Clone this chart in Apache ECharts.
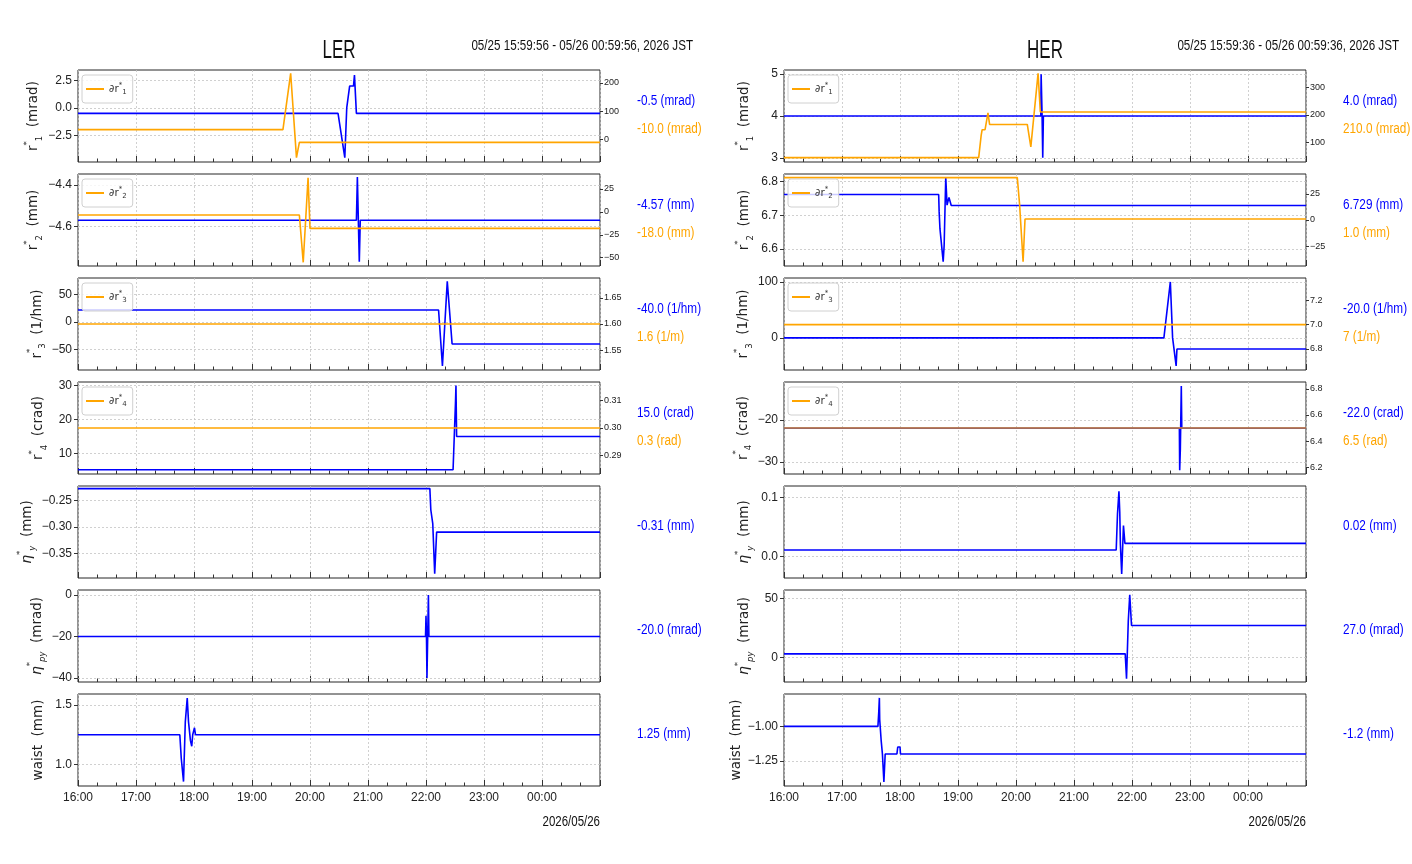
<!DOCTYPE html>
<html><head><meta charset="utf-8">
<script src="https://cdn.jsdelivr.net/npm/echarts@6/dist/echarts.min.js"></script>
<style>html,body{margin:0;padding:0;background:#fff}#c{width:1412px;height:864px}</style>
</head><body><div id="c"></div>
<script>
// ---------------- data (time "HH:MM[:SS]" , value) ----------------
const LER_r1   = [["16:00",-0.5],["20:29",-0.5],["20:36",-4.56],["20:38",0.0],["20:41",2.0],["20:45",2.0],["20:46",3.0],["20:48",-0.5],["01:00",-0.5]];
const LER_dr1  = [["16:00",35],["19:32",35],["19:40",234],["19:46",-64],["19:49",-10],["01:00",-10]];
const LER_r2   = [["16:00",-4.57],["20:48",-4.57],["20:49",-4.363],["20:51",-4.768],["20:52",-4.57],["01:00",-4.57]];
const LER_dr2  = [["16:00",-3.5],["19:49",-3.5],["19:53",-55],["19:58",37],["20:00",-18],["01:00",-18]];
const LER_r3   = [["16:00",22],["22:13",22],["22:17",-80],["22:22",74],["22:24",74],["22:27",-40],["01:00",-40]];
const LER_dr3  = [["16:00",1.6],["01:00",1.6]];
const LER_r4   = [["16:00",5.2],["22:28",5.2],["22:30:30",25],["22:31:00",30],["22:31:40",15],["01:00",15]];
const LER_dr4  = [["16:00",0.3],["01:00",0.3]];
const LER_ny   = [["16:00",-0.2275],["22:04",-0.2275],["22:05",-0.268],["22:07",-0.294],["22:09",-0.389],["22:11",-0.31],["01:00",-0.31]];
const LER_npy  = [["16:00",-20],["21:59:30",-20],["22:00:00",-10],["22:00:30",-20],["22:01:00",-40],["22:02:30",0],["22:03:00",-20],["01:00",-20]];
const LER_waist= [["16:00",1.25],["17:45:20",1.25],["17:46:50",1.05],["17:48:10",1.05],["17:49:10",0.856],["17:51:00",1.358],["17:52:30",1.358],["17:53:00",1.558],["17:54:20",1.358],["17:56:20",1.2],["17:57:40",1.153],["17:58:40",1.25],["18:00:30",1.308],["18:01:30",1.25],["01:00",1.25]];

const HER_r1   = [["16:00",4.0],["20:25:40",4.0],["20:26:00",5.0],["20:27:00",4.0],["20:27:40",3.0],["20:28:20",4.0],["01:00",4.0]];
const HER_dr1  = [["16:00",45],["19:21:24",45],["19:24:00",126],["19:25:00",146],["19:28:00",146],["19:31:00",207],["19:32:40",165],["20:11:40",165],["20:15:20",84],["20:22:50",350],["20:24:10",350],["20:25:10",210],["01:00",210]];
const HER_r2   = [["16:00",6.7616],["18:40:00",6.7616],["18:40:30",6.71],["18:41:20",6.66],["18:42:20",6.66],["18:44:40",6.562],["18:45:40",6.61],["18:47:20",6.813],["18:48:40",6.73],["18:50:40",6.753],["18:52:40",6.753],["18:53:00",6.729],["01:00",6.729]];
const HER_dr2  = [["16:00",40.5],["20:01:20",40.5],["20:03:40",15.5],["20:07:20",-40],["20:09:20",1],["01:00",1]];
const HER_r3   = [["16:00",0],["22:33:00",0],["22:39:40",100],["22:42:00",0],["22:43:20",0],["22:45:40",-50],["22:46:30",-20],["01:00",-20]];
const HER_dr3  = [["16:00",7.0],["01:00",7.0]];
const HER_r4   = [["16:00",-22],["22:49:00",-22],["22:49:20",-32],["22:50:00",-27],["22:51:00",-12],["22:51:30",-22],["01:00",-22]];
const HER_dr4  = [["16:00",6.5],["01:00",6.5]];
const HER_ny   = [["16:00",0.0106],["21:43:40",0.0106],["21:45:00",0.072],["21:46:30",0.11],["21:47:20",0.075],["21:48:00",0.02],["21:49:20",-0.03],["21:51:10",0.052],["21:52:40",0.0218],["01:00",0.0218]];
const HER_npy  = [["16:00",3.07],["21:53:00",3.07],["21:54:20",-17.9],["21:56:10",31],["21:57:40",53],["21:59:30",27],["01:00",27]];
const HER_waist= [["16:00",-1.0],["17:37:10",-1.0],["17:38:00",-0.9],["17:38:40",-0.795],["17:39:00",-0.95],["17:40:30",-1.1],["17:41:50",-1.2],["17:43:20",-1.4],["17:44:40",-1.198],["17:56:50",-1.198],["17:57:40",-1.148],["18:00:00",-1.148],["18:00:30",-1.198],["01:00",-1.198]];

// tick labels
const LER_ticksL = [[-2.5,0,2.5],[-4.6,-4.4],[-50,0,50],[10,20,30],[-0.35,-0.30,-0.25],[-40,-20,0],[1.0,1.5]];
const LER_ticksR = [[0,100,200],[-50,-25,0,25],[1.55,1.60,1.65],[0.29,0.30,0.31]];
const HER_ticksL = [[3,4,5],[6.6,6.7,6.8],[0,100],[-30,-20],[0.0,0.1],[0,50],[-1.25,-1.00]];
const HER_ticksR = [[100,200,300],[-25,0,25],[6.8,7.0,7.2],[6.2,6.4,6.6,6.8]];
const LER_decL = [1,1,0,0,2,0,1], LER_decR = [0,0,2,2];
const HER_decL = [0,1,0,0,1,0,2], HER_decR = [0,0,1,1];
const X_HOURS = [16,17,18,19,20,21,22,23,0];

// texts
const Y_NAMES = [['r','1','mrad'],['r','2','mm'],['r','3','1/hm'],['r','4','crad'],['η','y','mm'],['η','py','mrad'],['waist','','mm']];
const ORANGE_UNITS = ['mrad','mm','1/m','rad'];
const LER_decB = [1,2,1,1,2,1,2], LER_decO = [1,1,1,1];
const HER_decB = [1,3,1,1,2,1,1], HER_decO = [1,1,0,1];

// axis ranges
const LER_rangeL = [[-4.95,3.47],[-4.789,-4.348],[-87.3,80.1],[3.95,31.07],[-0.397,-0.2225],[-41.9,2.4],[0.819,1.592]];
const LER_rangeR = [[-79.5,245.6],[-59,41.2],[1.512,1.688],[0.2833,0.3167]];
const HER_rangeL = [[2.9,5.1],[6.549,6.8227],[-57.4,107],[-32.9,-11.02],[-0.0369,0.119],[-20.7,57],[-1.4286,-0.767]];
const HER_rangeR = [[29,362],[-44,44],[6.625,7.386],[6.147,6.853]];

// ---------------- build ----------------
const LF = "'Liberation Sans',Arial,sans-serif";
const DF = "'DejaVu Sans',sans-serif";
const BLUE = '#0000ff', ORANGE = '#ffa500', INK = '#222';
const GRID_TOPS = [70,174,278,382,486,590,694], GH = 92, GW = 522;

function hrs(s){const p=s.split(':').map(Number);let x=p[0]+p[1]/60+(p[2]||0)/3600-16;if(x<0)x+=24;return x;}
function fmt(v,d){const a=Math.abs(v)<1e-12?0:v;return (a<0?'\u2212':'')+Math.abs(a).toFixed(d);}
function conv(arr){return arr.map(([t,v])=>[hrs(t),v]);}
function txt(x,y,text,size,fill,align,sx){
  return {type:'text',x,y,scaleX:sx,scaleY:1,silent:true,
    style:{text,font:`${size}px ${LF}`,fill,align,verticalAlign:'middle',textAlign:align,textVerticalAlign:'middle'}};
}

const SIDES = [
 {left:78, title:'LER', range:'05/25 15:59:56 - 05/26 00:59:56, 2026 JST',
  blue:[LER_r1,LER_r2,LER_r3,LER_r4,LER_ny,LER_npy,LER_waist], orange:[LER_dr1,LER_dr2,LER_dr3,LER_dr4],
  tL:LER_ticksL,tR:LER_ticksR,dL:LER_decL,dR:LER_decR,rL:LER_rangeL,rR:LER_rangeR,dB:LER_decB,dO:LER_decO},
 {left:784, title:'HER', range:'05/25 15:59:36 - 05/26 00:59:36, 2026 JST',
  blue:[HER_r1,HER_r2,HER_r3,HER_r4,HER_ny,HER_npy,HER_waist], orange:[HER_dr1,HER_dr2,HER_dr3,HER_dr4],
  tL:HER_ticksL,tR:HER_ticksR,dL:HER_decL,dR:HER_decR,rL:HER_rangeL,rR:HER_rangeR,dB:HER_decB,dO:HER_decO}
];

const nameRich = {
  n:{fontFamily:DF,fontSize:13.5,color:INK,lineHeight:21},
  ei:{fontFamily:DF,fontSize:14,fontStyle:'italic',color:INK,lineHeight:21},
  sp:{fontFamily:DF,fontSize:8.5,color:INK,verticalAlign:'top',lineHeight:9},
  sb:{fontFamily:DF,fontSize:8.5,color:INK,verticalAlign:'bottom',lineHeight:9},
  sbi:{fontFamily:DF,fontSize:8.5,fontStyle:'italic',color:INK,verticalAlign:'bottom',lineHeight:9}
};
function yName(p){
  const [b,s,u]=Y_NAMES[p];
  if(b==='r') return `{n|r}{sp|*}{sb|${s}}{n|  (${u})}`;
  if(b==='η') return `{ei|η}{sp|*}{sbi|${s}}{n|  (${u})}`;
  return `{n|${b}  (${u})}`;
}

const grids=[],xAxes=[],yAxes=[],series=[],legends=[],graphics=[];
SIDES.forEach((sd,si)=>{
  const left=sd.left;
  graphics.push(txt(left+GW/2,51,sd.title,25,'#111','center',0.68));
  graphics.push(txt(left+GW+93,46,sd.range,14,'#111','right',0.83));
  graphics.push(txt(left+GW,822,'2026/05/26',14,'#111','right',0.82));
  for(let p=0;p<7;p++){
    const g=grids.length, top=GRID_TOPS[p], last=(p===6);
    grids.push({left,top,width:GW,height:GH,show:true,borderColor:'#262626',borderWidth:1,backgroundColor:'transparent'});
    xAxes.push({type:'value',gridIndex:g,min:0,max:9,interval:1,position:'bottom',
      axisLine:{show:false,onZero:false},
      axisTick:{show:true,inside:true,length:6,lineStyle:{color:'#333',width:1}},
      minorTick:{show:true,splitNumber:3,length:3.5,lineStyle:{color:'#333',width:1}},
      splitLine:{show:true,lineStyle:{color:'#c4c4c4',type:[2,2],width:0.8}},
      axisLabel:{show:last,showMaxLabel:false,margin:6,fontFamily:LF,fontSize:12,color:INK,
        formatter:v=>{const i=Math.round(v);if(i<0||i>=X_HOURS.length)return '';return String(X_HOURS[i]).padStart(2,'0')+':00';}}});
    const tl=sd.tL[p], dl=sd.dL[p];
    const yl=yAxes.length;
    yAxes.push({type:'value',gridIndex:g,position:'left',min:sd.rL[p][0],max:sd.rL[p][1],
      axisLine:{show:false,onZero:false},
      axisTick:{show:true,inside:false,length:4,customValues:tl,lineStyle:{color:'#333'}},
      splitLine:{show:false},
      axisLabel:{customValues:tl,formatter:v=>fmt(v,dl),fontFamily:LF,fontSize:12,color:INK,margin:6},
      name:yName(p),nameLocation:'middle',nameGap:29,nameRotate:90,nameTextStyle:{rich:nameRich}});
    series.push({type:'line',name:`${sd.title}_b${p}`,xAxisIndex:g,yAxisIndex:yl,data:conv(sd.blue[p]),
      showSymbol:false,symbol:'none',lineStyle:{color:BLUE,width:1.6},itemStyle:{color:BLUE},z:2,silent:true,
      markLine:{silent:true,symbol:['none','none'],z:1,animation:false,label:{show:false},
        lineStyle:{color:'#c4c4c4',type:[2,2],width:0.8},emphasis:{disabled:true},
        data:tl.map(v=>({yAxis:v}))}});
    const bArr=sd.blue[p], bLast=bArr[bArr.length-1][1];
    const bTxt=`${bLast.toFixed(sd.dB[p])} (${Y_NAMES[p][2]})`;
    const hasO = p<4;
    graphics.push(txt(left+GW+37,hasO?top+31:top+40,bTxt,14,BLUE,'left',0.84));
    if(hasO){
      const tr=sd.tR[p], dr=sd.dR[p];
      const yr=yAxes.length;
      yAxes.push({type:'value',gridIndex:g,position:'right',min:sd.rR[p][0],max:sd.rR[p][1],
        axisLine:{show:false,onZero:false},
        axisTick:{show:true,inside:false,length:3,customValues:tr,lineStyle:{color:'#333'}},
        splitLine:{show:false},
        axisLabel:{customValues:tr,formatter:v=>fmt(v,dr),fontFamily:LF,fontSize:9,color:INK,margin:4}});
      const oname=`${sd.title}_o${p}`;
      series.push({type:'line',name:oname,xAxisIndex:g,yAxisIndex:yr,data:conv(sd.orange[p]),
        showSymbol:false,symbol:'none',lineStyle:{color:ORANGE,width:1.6,opacity:(si===1&&p===3)?0.85:1},itemStyle:{color:ORANGE},z:3,silent:true});
      legends.push({show:true,selectedMode:false,data:[oname],left:left+4,top:top+5,orient:'vertical',
        icon:'rect',itemWidth:18,itemHeight:2,itemGap:0,padding:[7,6,7,4],
        backgroundColor:'rgba(255,255,255,0.8)',borderColor:'#d0d0d0',borderWidth:1,borderRadius:3,
        formatter:()=>`{d|∂r}{sp|*}{sb|${p+1}}`,
        textStyle:{color:'#333',fontFamily:DF,fontSize:10.5,rich:{
          d:{fontFamily:DF,fontSize:10.5,color:'#333',lineHeight:14},
          sp:{fontFamily:DF,fontSize:7,color:'#333',verticalAlign:'top',lineHeight:7},
          sb:{fontFamily:DF,fontSize:7,color:'#333',verticalAlign:'bottom',lineHeight:7}}}});
      const oArr=sd.orange[p], oLast=oArr[oArr.length-1][1];
      const oTxt=`${oLast.toFixed(sd.dO[p])} (${ORANGE_UNITS[p]})`;
      graphics.push(txt(left+GW+37,top+59,oTxt,14,ORANGE,'left',0.84));
    }
  }
});

const chart = echarts.init(document.getElementById('c'), null, {renderer:'canvas'});
chart.setOption({
  animation:false,
  backgroundColor:'#ffffff',
  grid:grids, xAxis:xAxes, yAxis:yAxes, series:series, legend:legends, graphic:graphics
});
</script>
</body></html>
